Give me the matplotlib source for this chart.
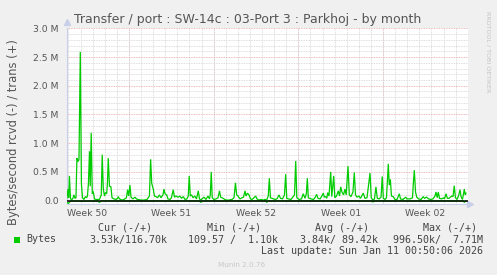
import matplotlib
matplotlib.use("Agg")
import matplotlib.pyplot as plt
from matplotlib.ticker import MultipleLocator, FixedLocator, FuncFormatter
from matplotlib.patches import Rectangle

# ---------------- data (days relative to first major week gridline, values in MB/s)
trans_day = [
    -5.12, -5.04, -4.98, -4.92, -4.83, -4.71, -4.63, -4.55, -4.46, -4.38,
    -4.30, -4.21, -4.13, -4.02, -3.93, -3.84, -3.72, -3.60, -3.51, -3.43,
    -3.35, -3.26, -3.20, -3.12, -3.03, -2.95, -2.85, -2.73, -2.56, -2.44,
    -2.29, -2.21, -2.12, -2.02, -1.94, -1.84, -1.78, -1.71, -1.61, -1.49,
    -1.40, -1.24, -1.07, -0.95, -0.88, -0.79, -0.58, -0.41, -0.21, -0.11,
    -0.02, 0.08, 0.17, 0.33, 0.50, 0.62, 0.74, 0.99, 1.24, 1.49,
    1.69, 1.79, 1.88, 2.01, 2.11, 2.23, 2.36, 2.52, 2.64, 2.81,
    2.89, 2.98, 3.12, 3.22, 3.39, 3.51, 3.66, 3.76, 3.88, 4.05,
    4.21, 4.34, 4.49, 4.63, 4.79, 4.90, 4.98, 5.07, 5.18, 5.29,
    5.44, 5.58, 5.73, 5.83, 5.93, 6.03, 6.20, 6.36, 6.53, 6.65,
    6.72, 6.80, 6.88, 7.02, 7.19, 7.36, 7.48, 7.58, 7.69, 7.85,
    8.02, 8.26, 8.51, 8.68, 8.80, 8.90, 9.01, 9.17, 9.34, 9.46,
    9.59, 9.67, 9.79, 9.92, 10.04, 10.17, 10.33, 10.47, 10.58, 10.74,
    10.91, 11.07, 11.24, 11.38, 11.51, 11.60, 11.69, 11.82, 12.07, 12.23,
    12.40, 12.52, 12.69, 12.85, 12.95, 13.04, 13.18, 13.39, 13.68, 13.78,
    13.87, 14.05, 14.26, 14.40, 14.55, 14.66, 14.74, 14.82, 15.04, 15.25,
    15.37, 15.51, 15.62, 15.79, 15.91, 16.06, 16.14, 16.26, 16.35, 16.42,
    16.53, 16.67, 16.76, 16.92, 17.01, 17.15, 17.30, 17.40, 17.50, 17.60,
    17.73, 17.85, 17.95, 18.10, 18.21, 18.35, 18.51, 18.62, 18.72, 18.84,
    19.01, 19.13, 19.23, 19.36, 19.50, 19.67, 19.79, 19.92, 20.02, 20.17,
    20.29, 20.41, 20.52, 20.66, 20.83, 20.93, 21.02, 21.16, 21.28, 21.43,
    21.51, 21.60, 21.69, 21.84, 21.98, 22.15, 22.34, 22.44, 22.64, 22.87,
    22.98, 23.22, 23.43, 23.50, 23.58, 23.68, 23.78, 23.93, 24.13, 24.32,
    24.42, 24.60, 24.75, 24.96, 25.12, 25.29, 25.37, 25.48, 25.56, 25.66,
    25.84, 25.99, 26.07, 26.20, 26.31, 26.45, 26.67, 26.78, 26.88, 26.98,
    27.11, 27.23, 27.36, 27.44, 27.56, 27.71, 27.79, 27.85,
]
trans_mb = [
    0.05, 0.20, 0.05, 0.43, 0.03, 0.02, 0.04, 0.10, 0.04, 0.05,
    0.74, 0.68, 0.72, 2.59, 0.30, 0.05, 0.02, 0.07, 0.05, 0.08,
    0.30, 0.86, 0.25, 1.18, 0.12, 0.16, 0.03, 0.02, 0.02, 0.02,
    0.10, 0.80, 0.20, 0.08, 0.14, 0.12, 0.30, 0.74, 0.25, 0.24,
    0.05, 0.03, 0.02, 0.04, 0.07, 0.03, 0.01, 0.02, 0.05, 0.19,
    0.08, 0.27, 0.06, 0.03, 0.06, 0.03, 0.02, 0.01, 0.01, 0.02,
    0.08, 0.72, 0.30, 0.20, 0.08, 0.07, 0.05, 0.10, 0.05, 0.10,
    0.20, 0.12, 0.10, 0.03, 0.02, 0.05, 0.19, 0.06, 0.08, 0.06,
    0.08, 0.04, 0.07, 0.02, 0.03, 0.08, 0.43, 0.08, 0.10, 0.05,
    0.08, 0.03, 0.17, 0.03, 0.01, 0.03, 0.06, 0.02, 0.08, 0.03,
    0.10, 0.50, 0.05, 0.02, 0.03, 0.05, 0.17, 0.06, 0.05, 0.03,
    0.01, 0.01, 0.02, 0.05, 0.31, 0.10, 0.08, 0.03, 0.05, 0.06,
    0.17, 0.08, 0.13, 0.10, 0.03, 0.02, 0.05, 0.08, 0.03, 0.01,
    0.02, 0.01, 0.02, 0.01, 0.08, 0.39, 0.05, 0.04, 0.02, 0.03,
    0.10, 0.04, 0.03, 0.10, 0.46, 0.04, 0.03, 0.02, 0.10, 0.69,
    0.05, 0.02, 0.03, 0.12, 0.04, 0.12, 0.39, 0.05, 0.03, 0.02,
    0.05, 0.11, 0.04, 0.03, 0.07, 0.13, 0.06, 0.07, 0.04, 0.14,
    0.08, 0.50, 0.07, 0.43, 0.05, 0.08, 0.17, 0.08, 0.24, 0.15,
    0.10, 0.20, 0.10, 0.60, 0.10, 0.07, 0.15, 0.49, 0.10, 0.06,
    0.08, 0.04, 0.08, 0.13, 0.04, 0.05, 0.25, 0.48, 0.05, 0.01,
    0.03, 0.24, 0.04, 0.03, 0.06, 0.42, 0.04, 0.02, 0.05, 0.64,
    0.27, 0.37, 0.08, 0.07, 0.02, 0.02, 0.12, 0.03, 0.02, 0.06,
    0.03, 0.03, 0.05, 0.30, 0.53, 0.15, 0.06, 0.03, 0.02, 0.07,
    0.04, 0.06, 0.03, 0.02, 0.03, 0.08, 0.15, 0.05, 0.15, 0.04,
    0.03, 0.05, 0.03, 0.12, 0.04, 0.04, 0.08, 0.07, 0.26, 0.05,
    0.02, 0.08, 0.19, 0.07, 0.02, 0.20, 0.10, 0.13,
]
rcvd_day = [-5.12, -5.00, -4.85, -4.60, -3.90, -2.60, -2.44, -2.30, 5.80, 5.93,
            6.05, 11.30, 11.38, 11.50, 20.10, 20.17, 20.25, 27.60, 27.71, 27.85]
rcvd_mb = [-0.03, -0.05, -0.01, -0.005, -0.01, -0.005, -0.03, -0.005, -0.005, -0.03,
           -0.005, -0.005, -0.03, -0.005, -0.005, -0.025, -0.005, -0.005, -0.03, -0.005]

week_labels = ["Week 50", "Week 51", "Week 52", "Week 01", "Week 02"]
week_label_pos = [-3.5, 3.5, 10.5, 17.5, 24.5]
week_lines = [0, 7, 14, 21]

title = "Transfer / port : SW-14c : 03-Port 3 : Parkhoj - by month"
ylabel = "Bytes/second rcvd (-) / trans (+)"
legend_headers = ["Cur (-/+)", "Min (-/+)", "Avg (-/+)", "Max (-/+)"]
legend_values = ["3.53k/116.70k", "109.57 /  1.10k", "3.84k/ 89.42k", "996.50k/  7.71M"]
last_update = "Last update: Sun Jan 11 00:50:06 2026"

GREEN = "#00CC00"
W, H = 497, 275

fig = plt.figure(figsize=(W / 100, H / 100), dpi=100, facecolor="#F0F0F0")
ax = fig.add_axes([67 / W, 1 - 203.5 / H, 400.8 / W, 175.2 / H])
ax.set_facecolor("white")

ax.plot(trans_day, trans_mb, color=GREEN, lw=0.9, zorder=3, solid_joinstyle="miter")
ax.plot(rcvd_day, rcvd_mb, color=GREEN, lw=0.9, zorder=3)
ax.axhline(0, color="black", lw=1.1, zorder=4)

ax.set_xlim(-5.12, 28.0)
ax.set_ylim(-0.05, 3.0)

# grid
ax.yaxis.set_major_locator(MultipleLocator(0.5))
ax.yaxis.set_minor_locator(MultipleLocator(0.1))
ax.xaxis.set_major_locator(FixedLocator(week_label_pos))
ax.xaxis.set_minor_locator(MultipleLocator(1))
ax.set_xticklabels(week_labels)
ax.yaxis.set_major_formatter(FuncFormatter(lambda v, p: "0.0" if abs(v) < 1e-9 else f"{v:.1f} M"))

ax.grid(which="minor", color="#d4d4d4", ls=(0, (1, 1)), lw=0.6, zorder=1)
ax.yaxis.grid(which="major", color="#e8a3a3", ls=(0, (1, 1)), lw=0.6, zorder=1)
ax.xaxis.grid(which="major", visible=False)
for wl in week_lines:
    ax.axvline(wl, color="#e8a3a3", ls=(0, (1, 1)), lw=0.6, zorder=1)

ax.tick_params(axis="both", which="both", length=0, colors="#555555", labelsize=6.7)
ax.tick_params(axis="y", pad=6)
ax.tick_params(axis="x", pad=4)

for s in ["top", "right"]:
    ax.spines[s].set_visible(False)
for s in ["left", "bottom"]:
    ax.spines[s].set_color("#c8cfe8")
    ax.spines[s].set_linewidth(0.8)
ax.plot([0], [1.035], marker="^", ms=4, color="#c8cfe8", transform=ax.transAxes, clip_on=False)
ax.plot([1.006], [0], marker=">", ms=4, color="#c8cfe8", transform=ax.transAxes, clip_on=False)

# texts
fig.text(248 / W, 1 - 19 / H, title, ha="center", va="center", fontsize=9, color="#555555")
fig.text(14 / W, 1 - 132 / H, ylabel, ha="center", va="center", rotation=90, fontsize=8.3, color="#555555")
fig.text(488 / W, 1 - 52 / H, "RRDTOOL / TOBI OETIKER", ha="center", va="center", rotation=270,
         fontsize=4.6, color="#c4c4c4")

mono = dict(family="DejaVu Sans Mono", fontsize=7.2, color="#444444")
hdr_x = [98, 207, 315, 423]
for x, t in zip(hdr_x, legend_headers):
    fig.text(x / W, 1 - 228 / H, t, ha="left", va="center", **mono)
val_right = [167, 278, 378, 483]
for x, t in zip(val_right, legend_values):
    fig.text(x / W, 1 - 239.5 / H, t, ha="right", va="center", **mono)
fig.text(26 / W, 1 - 239.5 / H, "Bytes", ha="left", va="center", **mono)
fig.patches.append(Rectangle((13.5 / W, 1 - 243 / H), 6 / W, 6 / H, transform=fig.transFigure,
                             facecolor=GREEN, edgecolor="none"))
fig.text(483 / W, 1 - 251 / H, last_update, ha="right", va="center", **mono)
fig.text(242 / W, 1 - 265 / H, "Munin 2.0.76", ha="center", va="center", fontsize=5.2, color="#c8c8c8")

fig.savefig("out.png", dpi=100, facecolor=fig.get_facecolor())
